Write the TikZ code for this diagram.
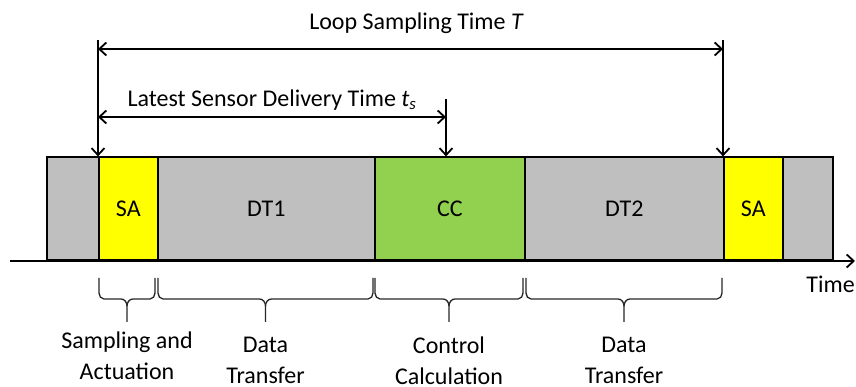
\documentclass[tikz,border=0pt]{standalone}
\usepackage{fontspec}
\setmainfont{Carlito}
\usetikzlibrary{arrows.meta,positioning}
\definecolor{phasegray}{RGB}{191,191,191}
\definecolor{phaseyellow}{RGB}{255,255,0}
\definecolor{phasegreen}{RGB}{146,208,80}

\begin{document}
\begin{tikzpicture}[x=1pt,y=1pt,
  phase/.style={draw, line width=1.6pt, minimum height=103pt, inner sep=0pt,
    anchor=south west, font=\fontsize{24}{28}\selectfont},
  timearrow/.style={line width=1.8pt, >={Straight Barb[length=7pt,width=13pt]}},
  bracestyle/.style={line width=1.3pt, black!85},
  txt/.style={inner sep=2pt, font=\fontsize{24}{31}\selectfont, align=center}]

  \useasboundingbox (0,0) rectangle (856,387);

  % Define the phases along the time axis
  \node[phase, fill=phasegray, minimum width=52pt] (pre) at (46,126) {};
  \node[phase, fill=phaseyellow, minimum width=59pt] (sa1) at (98,126) {SA};
  \node[phase, fill=phasegray, minimum width=217pt] (dt1) at (157,126) {DT1};
  \node[phase, fill=phasegreen, minimum width=150pt] (cc) at (374,126) {CC};
  \node[phase, fill=phasegray, minimum width=199pt] (dt2) at (524,126) {DT2};
  \node[phase, fill=phaseyellow, minimum width=59pt] (sa2) at (723,126) {SA};
  \node[phase, fill=phasegray, minimum width=50pt] (post) at (782,126) {};

  % Draw the time axis
  \coordinate (axisA) at (10,126);
  \coordinate (axisB) at (855,126);
  \draw[timearrow, ->] (axisA) -- (axisB);
  \node[txt, anchor=base east] (timelbl) at (857,94) {Time};

  % Mark the loop and sensor delivery times
  \coordinate (loopL) at (98,347);
  \coordinate (loopR) at (723,347);
  \coordinate (tsR) at (446,288);
  \draw[timearrow, ->] (loopL) -- (sa1.north west);
  \draw[timearrow, ->] (loopR) -- (sa2.north west);
  \draw[timearrow, ->] (tsR) -- (tsR |- cc.north);

  \coordinate (loopA) at (98,338);
  \coordinate (loopB) at (723,338);
  \coordinate (tsA) at (98,270);
  \coordinate (tsB) at (446,270);
  \draw[timearrow, <->] (loopA) -- node[txt, above=12pt, xshift=6pt] (looplbl)
    {Loop Sampling Time \textit{T}} (loopB);
  \draw[timearrow, <->] (tsA) -- node[txt, above=4pt] (tslbl)
    {Latest Sensor Delivery Time \textit{t}\textsubscript{\textit{s}}} (tsB);

  % Braces below the phases
  \foreach \l/\r/\n in {99/155/sa, 158/373/dtx, 375/523/cc, 526/722/dty} {
    \pgfmathsetmacro{\m}{(\l+\r)/2}
    \draw[bracestyle] (\l,109) -- (\l,94) to[out=-90,in=180] (\l+5,88)
      -- (\m-6,88) to[out=0,in=90] (\m,81) -- (\m,65) coordinate (tip-\n);
    \draw[bracestyle] (\m,81) to[out=90,in=180] (\m+6,88)
      -- (\r-5,88) to[out=0,in=-90] (\r,94) -- (\r,109);
  }

  % Label the phases
  \node[txt, below=8pt of tip-sa] (salbl) {Sampling and\\Actuation};
  \node[txt, below=13pt of tip-dtx] (dtxlbl) {Data\\Transfer};
  \node[txt, below=13pt of tip-cc] (cclbl) {Control\\Calculation};
  \node[txt, below=13pt of tip-dty] (dtylbl) {Data\\Transfer};
\end{tikzpicture}
\end{document}
